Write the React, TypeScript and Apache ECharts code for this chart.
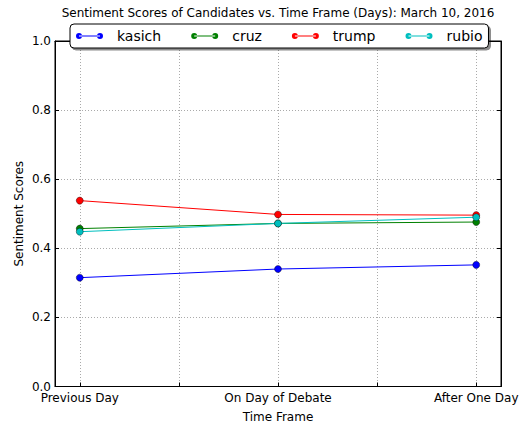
import React, { useEffect, useRef } from "react";
import * as echarts from "echarts";

const categories = ["Previous Day", "On Day of Debate", "After One Day"];
const xPositions = [0, 1, 2];
const seriesNames = ["kasich", "cruz", "trump", "rubio"];
const kasich = [0.315, 0.34, 0.352];
const cruz = [0.457, 0.472, 0.476];
const trump = [0.538, 0.498, 0.496];
const rubio = [0.448, 0.472, 0.49];
const colors = ["#0000ff", "#008000", "#ff0000", "#00bfbf"];
const xTicks = [0, 0.5, 1, 1.5, 2];

const FONT = "DejaVu Sans";

export default function App() {
  const ref = useRef<HTMLDivElement>(null);
  useEffect(() => {
    if (!ref.current) return;
    const chart = echarts.init(ref.current, null, { renderer: "svg" });
    const values = [kasich, cruz, trump, rubio];
    const legendIcon =
      "path://M0,3a3,3 0 1,0 6,0a3,3 0 1,0 -6,0zM3,2.5h21v1h-21zM21,3a3,3 0 1,0 6,0a3,3 0 1,0 -6,0z";
    const grid = { left: 55, right: 23, top: 41, bottom: 35.5 };
    const gridLine = { show: true, lineStyle: { color: "#aaa", type: [1, 2] as any, width: 1 } };
    chart.setOption({
      animation: false,
      backgroundColor: "#fff",
      textStyle: { fontFamily: FONT },
      graphic: [
        {
          type: "text",
          x: 278,
          y: 13,
          style: {
            text: "Sentiment Scores of Candidates vs. Time Frame (Days): March 10, 2016",
            font: `12px "${FONT}"`,
            fill: "#000",
            textAlign: "center",
            textVerticalAlign: "middle",
          },
        },
      ],
      legend: {
        left: 70,
        top: 24,
        padding: [5, 6, 5, 6],
        itemWidth: 27,
        itemHeight: 6,
        itemGap: 30,
        backgroundColor: "#fff",
        borderColor: "#000",
        borderWidth: 1,
        borderRadius: 4,
        shadowColor: "rgba(0,0,0,0.45)",
        shadowOffsetX: 2,
        shadowOffsetY: 2,
        shadowBlur: 0,
        z: 10,
        textStyle: { fontFamily: FONT, fontSize: 14, color: "#000", padding: [0, 0, 0, 9] },
        data: seriesNames.map((name, i) => ({
          name,
          icon: legendIcon,
          itemStyle: { color: colors[i], borderWidth: 0, borderColor: colors[i] },
        })),
      },
      grid: {
        ...grid,
        outerBoundsMode: "none",
        show: true,
        borderColor: "#000",
        borderWidth: 1,
        backgroundColor: "#fff",
      },
      xAxis: [
        {
          type: "value",
          min: -0.125,
          max: 2.125,
          name: "Time Frame",
          nameLocation: "middle",
          nameGap: 24,
          nameMoveOverlap: false,
          nameTextStyle: { fontFamily: FONT, fontSize: 12, color: "#000" },
          axisLine: { show: true, onZero: false, lineStyle: { color: "#000" } },
          axisTick: { show: true, inside: true, length: 4, customValues: xTicks, lineStyle: { color: "#000" } },
          axisLabel: {
            customValues: xPositions,
            fontFamily: FONT,
            fontSize: 12,
            color: "#000",
            margin: 5.5,
            formatter: (v: number) => categories[Math.round(v)] ?? "",
          },
          splitLine: gridLine,
        },
        {
          type: "value",
          position: "top",
          min: -0.125,
          max: 2.125,
          axisLine: { show: true, onZero: false, lineStyle: { color: "#000" } },
          axisTick: { show: true, inside: true, length: 4, customValues: xTicks, lineStyle: { color: "#000" } },
          axisLabel: { show: false },
          splitLine: { show: false },
        },
      ],
      yAxis: [
        {
          type: "value",
          min: 0,
          max: 1,
          interval: 0.2,
          name: "Sentiment Scores",
          nameLocation: "middle",
          nameGap: 30,
          nameMoveOverlap: false,
          nameTextStyle: { fontFamily: FONT, fontSize: 12, color: "#000" },
          axisLine: { show: true, onZero: false, lineStyle: { color: "#000" } },
          axisTick: { show: true, inside: true, length: 4, lineStyle: { color: "#000" } },
          axisLabel: {
            fontFamily: FONT,
            fontSize: 12,
            color: "#000",
            margin: 4,
            formatter: (v: number) => v.toFixed(1),
          },
          splitLine: gridLine,
        },
        {
          type: "value",
          position: "right",
          min: 0,
          max: 1,
          interval: 0.2,
          axisLine: { show: true, onZero: false, lineStyle: { color: "#000" } },
          axisTick: { show: true, inside: true, length: 4, lineStyle: { color: "#000" } },
          axisLabel: { show: false },
          splitLine: { show: false },
        },
      ],
      series: seriesNames.map((name, i) => ({
        name,
        type: "line",
        xAxisIndex: 0,
        yAxisIndex: 0,
        data: xPositions.map((x, j) => [x, values[i][j]]),
        symbol: "circle",
        symbolSize: 7,
        color: colors[i],
        lineStyle: { width: 1, color: colors[i] },
        itemStyle: { color: colors[i], borderColor: "#000", borderWidth: 0.4 },
        z: 2 + i,
      })),
    });
    return () => chart.dispose();
  }, []);
  return (
    <div
      ref={ref}
      style={{ position: "fixed", left: 0, top: 0, width: 524, height: 422 }}
    />
  );
}
